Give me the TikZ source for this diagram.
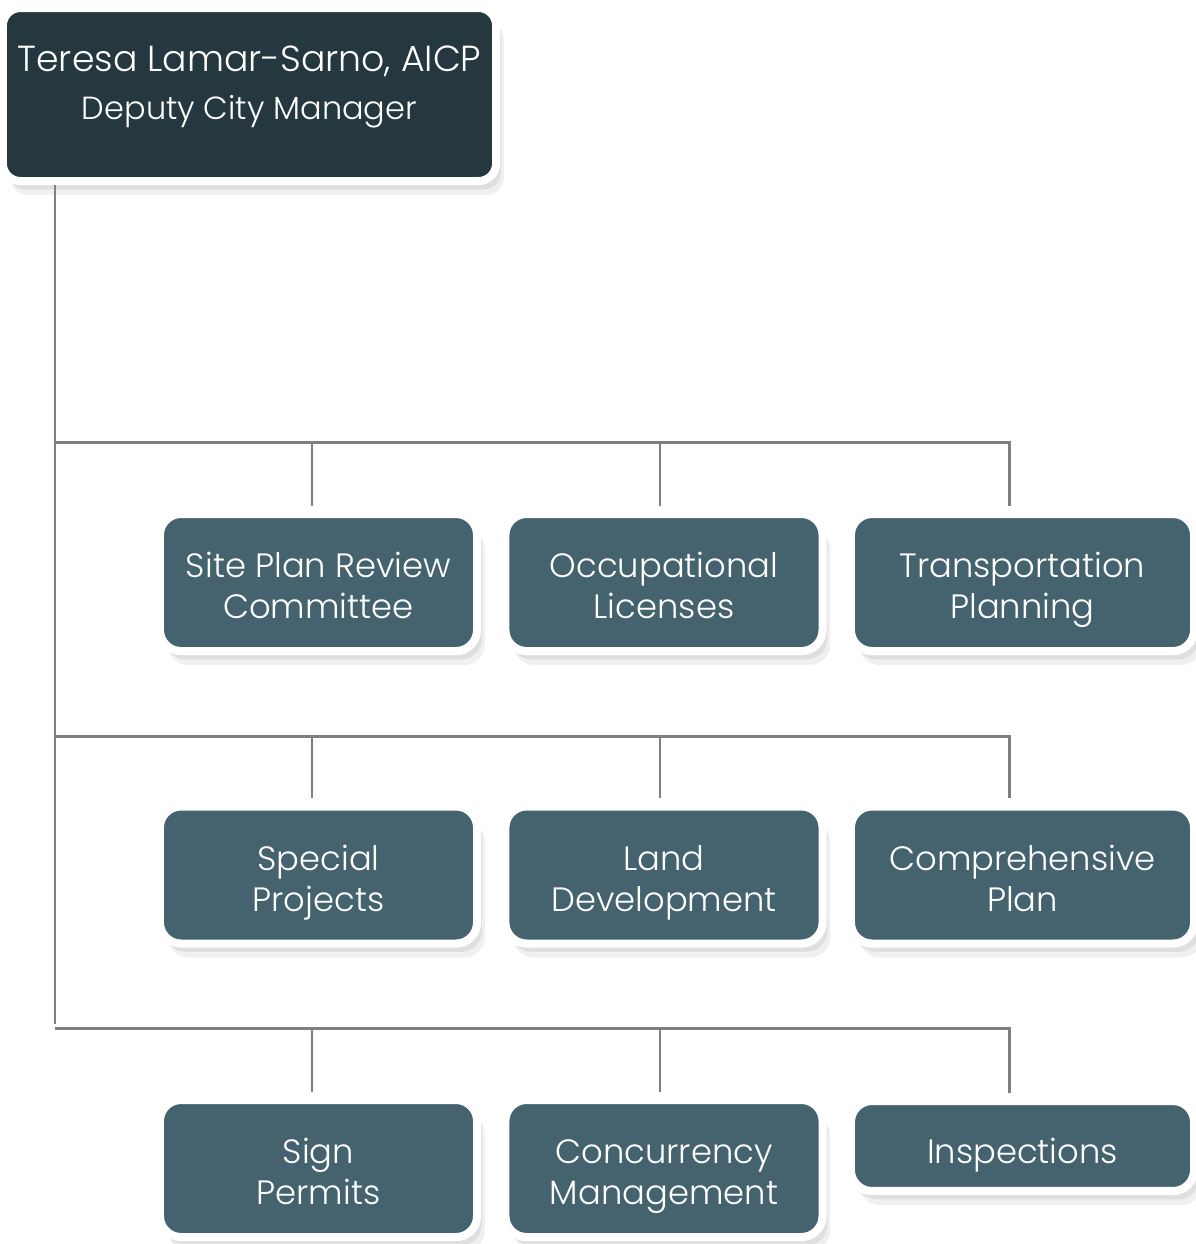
\documentclass[tikz,border=0pt]{standalone}
\usepackage{fontspec}
\setmainfont{Poppins}[UprightFont=* Light]
\usetikzlibrary{shadows}

\definecolor{bossfill}{HTML}{253840}
\definecolor{unitfill}{HTML}{45636F}
\definecolor{linkgray}{HTML}{7F7F7F}

\tikzset{
  card/.style={draw=white, line width=2.3pt, rounded corners=6pt, fill=unitfill,
    text=white, align=center, inner sep=0pt, text height=20.7pt, text depth=0pt,
    minimum width=3.17cm, minimum height=1.37cm,
    font=\fontsize{9.6}{11.7}\selectfont,
    drop shadow={opacity=0.12, shadow xshift=2.2pt, shadow yshift=-4pt},
    drop shadow={opacity=0.15, shadow xshift=1.4pt, shadow yshift=-2.4pt}},
  widecard/.style={card, minimum width=3.43cm},
  boss/.style={card, fill=bossfill, rounded corners=5pt,
    minimum width=4.93cm, minimum height=1.73cm},
  link/.style={draw=linkgray, line width=0.85pt, shorten >=1.2pt}
}

\begin{document}
\begin{tikzpicture}[x=0.01cm, y=-0.01cm]
  \useasboundingbox (0,0) rectangle (1196,1244);

  % manager
  \node[boss] (boss) at (249.5,94.5) {};
  \node[text=white, align=center, inner sep=0pt] (bossname) at (249.5,87)
    {{\fontsize{10.3}{12}\selectfont Teresa Lamar-Sarno, AICP}\\[1.5pt]
     {\fontsize{9.1}{11}\selectfont Deputy City Manager}};

  % first row
  \node[card] (spr) at (318.5,582.5) {Site Plan Review\\Committee};
  \node[card] (occ) at (664,582.5) {Occupational\\Licenses};
  \node[widecard] (trp) at (1022.5,582.5) {Transportation\\Planning};

  % second row
  \node[card] (spp) at (318.5,875) {Special\\Projects};
  \node[card] (lnd) at (664,875) {Land\\Development};
  \node[widecard] (cmp) at (1022.5,875) {Comprehensive\\Plan};

  % third row
  \node[card] (sgn) at (318.5,1168.5) {Sign\\Permits};
  \node[card] (ccm) at (664,1168.5) {Concurrency\\Management};
  \node[widecard, minimum height=0.9cm, text height=9.8pt] (ins) at (1022.5,1146) {Inspections};

  % trunk and buses
  \coordinate (bus1) at (55,442);
  \coordinate (bus2) at (55,736);
  \coordinate (bus3) at (55,1028);
  \draw[link] (boss.south -| bus3) -- (bus3);

  \foreach \row/\a/\b/\c in {1/spr/occ/trp, 2/spp/lnd/cmp, 3/sgn/ccm/ins} {
    \coordinate (d\a) at ([xshift=-0.065cm]\a.north);
    \coordinate (d\b) at ([xshift=-0.04cm]\b.north);
    \coordinate (d\c) at ([xshift=-0.125cm]\c.north);
    \draw[link] (bus\row) -| (d\c);
    \draw[link] (d\a |- bus\row) -- (d\a);
    \draw[link] (d\b |- bus\row) -- (d\b);
  }
\end{tikzpicture}
\end{document}
